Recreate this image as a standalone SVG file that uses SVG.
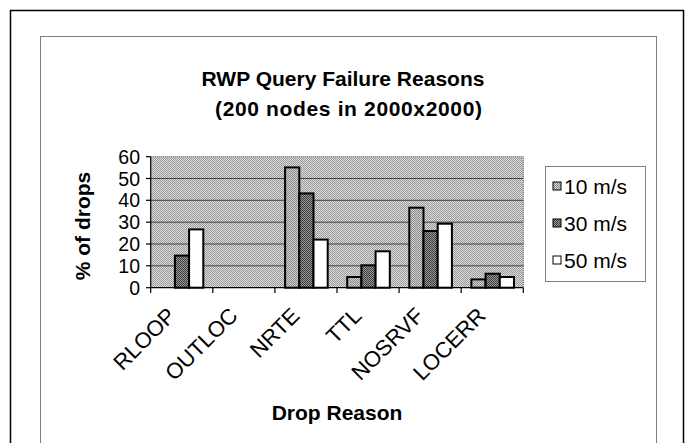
<svg xmlns="http://www.w3.org/2000/svg" width="685" height="443" viewBox="0 0 685 443">
<style>
text{font-family:"Liberation Sans",Arial,sans-serif;fill:#000}
.t{font-size:21px;font-weight:bold;text-anchor:middle}
.ax{font-size:21px;font-weight:bold;text-anchor:middle}
.yl{font-size:19.5px;text-anchor:end}
.cl{font-size:22px;text-anchor:end}
.lg{font-size:21px}
.bar{stroke:#000;stroke-width:2}
.grid{stroke:#404040;stroke-width:1}
</style>
<defs>
<pattern id="bg" patternUnits="userSpaceOnUse" width="2" height="2">
<rect width="2" height="2" fill="#dcdcdc"/>
<rect width="1" height="1" fill="#999"/>
<rect x="1" y="1" width="1" height="1" fill="#999"/>
</pattern>
<pattern id="p10" patternUnits="userSpaceOnUse" width="2" height="2">
<rect width="2" height="2" fill="#d0d0d0"/>
<rect width="1" height="1" fill="#8a8a8a"/>
<rect x="1" y="1" width="1" height="1" fill="#8a8a8a"/>
</pattern>
<pattern id="p30" patternUnits="userSpaceOnUse" width="2" height="2">
<rect width="2" height="2" fill="#9a9a9a"/>
<rect width="1" height="1" fill="#3a3a3a"/>
<rect x="1" y="1" width="1" height="1" fill="#3a3a3a"/>
</pattern>
</defs>
<rect x="0" y="0" width="685" height="443" fill="#fff"/>
<rect id="outer-frame" x="10.5" y="10.5" width="673" height="445" fill="none" stroke="#000" stroke-width="1.5"/>
<rect id="inner-frame" x="40.5" y="36.5" width="616" height="420" fill="none" stroke="#808080" stroke-width="1"/>
<g id="title">
<text class="t" x="343" y="86">RWP Query Failure Reasons</text>
<text class="t" x="348.5" y="116" textLength="267" lengthAdjust="spacing">(200 nodes in 2000x2000)</text>
</g>
<g id="plot">
<rect x="150.7" y="156.7" width="372.6" height="131" fill="url(#bg)"/>
<g class="grid">
<line x1="150.7" y1="178.5" x2="523.3" y2="178.5"/>
<line x1="150.7" y1="200.3" x2="523.3" y2="200.3"/>
<line x1="150.7" y1="222.2" x2="523.3" y2="222.2"/>
<line x1="150.7" y1="244" x2="523.3" y2="244"/>
<line x1="150.7" y1="265.8" x2="523.3" y2="265.8"/>
</g>
<path d="M150.7 156.7H523.3V287.7" fill="none" stroke="#555" stroke-width="1" stroke-dasharray="1,1"/>
</g>
<g id="bars">
<rect class="bar" x="174.9" y="255.6" width="14.2" height="32.1" fill="url(#p30)"/>
<rect class="bar" x="189.1" y="229.4" width="14.2" height="58.3" fill="#fff"/>
<rect class="bar" x="285.1" y="167.4" width="14.2" height="120.3" fill="url(#p10)"/>
<rect class="bar" x="299.3" y="193.4" width="14.2" height="94.3" fill="url(#p30)"/>
<rect class="bar" x="313.5" y="239.6" width="14.2" height="48.1" fill="#fff"/>
<rect class="bar" x="347.2" y="277" width="14.2" height="10.7" fill="url(#p10)"/>
<rect class="bar" x="361.4" y="265.3" width="14.2" height="22.4" fill="url(#p30)"/>
<rect class="bar" x="375.6" y="251.3" width="14.2" height="36.4" fill="#fff"/>
<rect class="bar" x="409.3" y="207.7" width="14.2" height="80" fill="url(#p10)"/>
<rect class="bar" x="423.5" y="231" width="14.2" height="56.7" fill="url(#p30)"/>
<rect class="bar" x="437.7" y="223.7" width="14.2" height="64" fill="#fff"/>
<rect class="bar" x="471.4" y="279.4" width="14.2" height="8.3" fill="url(#p10)"/>
<rect class="bar" x="485.6" y="273.7" width="14.2" height="14" fill="url(#p30)"/>
<rect class="bar" x="499.8" y="277" width="14.2" height="10.7" fill="#fff"/>
</g>
<g id="axes" stroke="#000" stroke-width="1.2">
<line x1="150.7" y1="156.7" x2="150.7" y2="287.7"/>
<line x1="146" y1="156.7" x2="150.7" y2="156.7"/>
<line x1="146" y1="178.5" x2="150.7" y2="178.5"/>
<line x1="146" y1="200.3" x2="150.7" y2="200.3"/>
<line x1="146" y1="222.2" x2="150.7" y2="222.2"/>
<line x1="146" y1="244" x2="150.7" y2="244"/>
<line x1="146" y1="265.8" x2="150.7" y2="265.8"/>
<line x1="146" y1="287.7" x2="150.7" y2="287.7"/>
<line x1="150.7" y1="287.7" x2="523.3" y2="287.7"/>
<line x1="150.7" y1="287.7" x2="150.7" y2="293"/>
<line x1="212.8" y1="287.7" x2="212.8" y2="293"/>
<line x1="274.9" y1="287.7" x2="274.9" y2="293"/>
<line x1="337" y1="287.7" x2="337" y2="293"/>
<line x1="399.1" y1="287.7" x2="399.1" y2="293"/>
<line x1="461.2" y1="287.7" x2="461.2" y2="293"/>
<line x1="523.3" y1="287.7" x2="523.3" y2="293"/>
</g>
<g id="y-labels">
<text class="yl" x="140" y="163.8">60</text>
<text class="yl" x="140" y="185.6">50</text>
<text class="yl" x="140" y="207.4">40</text>
<text class="yl" x="140" y="229.3">30</text>
<text class="yl" x="140" y="251.1">20</text>
<text class="yl" x="140" y="272.9">10</text>
<text class="yl" x="140" y="294.8">0</text>
</g>
<text class="ax" transform="translate(90 226) rotate(-90)">% of drops</text>
<g id="x-labels">
<text class="cl" transform="translate(177 317) rotate(-45)">RLOOP</text>
<text class="cl" transform="translate(239 317) rotate(-45)">OUTLOC</text>
<text class="cl" transform="translate(301 317) rotate(-45)">NRTE</text>
<text class="cl" transform="translate(363 317) rotate(-45)">TTL</text>
<text class="cl" transform="translate(425 317) rotate(-45)">NOSRVF</text>
<text class="cl" transform="translate(487 317) rotate(-45)">LOCERR</text>
</g>
<text class="ax" x="337" y="420">Drop Reason</text>
<g id="legend">
<rect x="545.5" y="166.5" width="100" height="115" fill="#fff" stroke="#808080" stroke-width="1"/>
<rect x="553" y="182" width="8" height="8" fill="url(#p10)" stroke="#000" stroke-width="1"/>
<text class="lg" x="564" y="193.5">10 m/s</text>
<rect x="553" y="219" width="8" height="8" fill="url(#p30)" stroke="#000" stroke-width="1"/>
<text class="lg" x="564" y="230.5">30 m/s</text>
<rect x="553" y="256" width="8" height="8" fill="#fff" stroke="#000" stroke-width="1"/>
<text class="lg" x="564" y="267.5">50 m/s</text>
</g>
</svg>
